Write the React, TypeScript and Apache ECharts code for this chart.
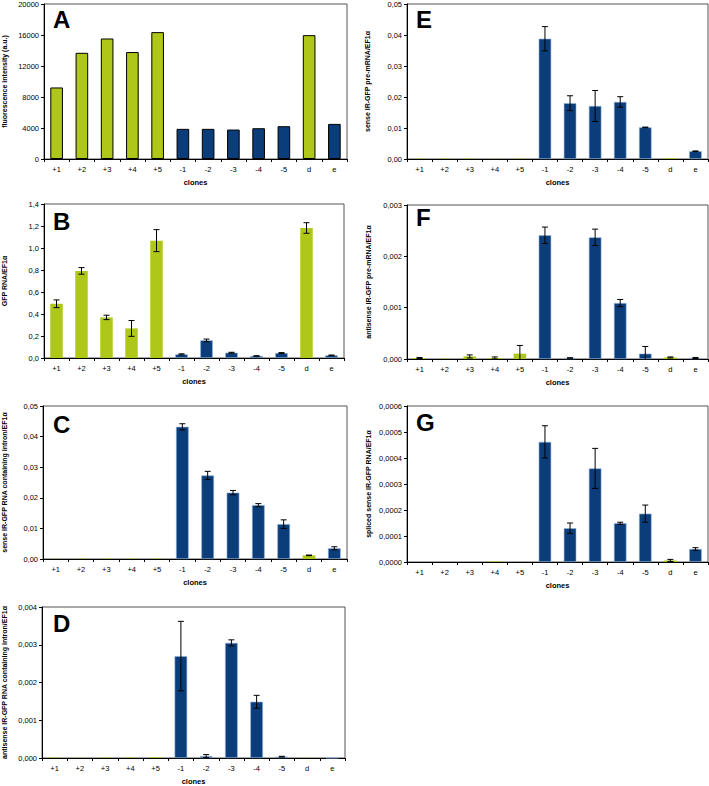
import React, { useEffect, useRef } from "react";
import * as echarts from "echarts";

const categories = ["+1", "+2", "+3", "+4", "+5", "-1", "-2", "-3", "-4", "-5", "d", "e"];

const valuesA = [9230, 13700, 15550, 13800, 16370, 3890, 3890, 3800, 3970, 4230, 15980, 4530];

const valuesB = [0.493, 0.792, 0.369, 0.269, 1.067, 0.033, 0.16, 0.048, 0.018, 0.045, 1.182, 0.024];
const errorsB = [0.035, 0.03, 0.02, 0.072, 0.1, 0.005, 0.012, 0.004, 0.003, 0.004, 0.048, 0.003];

const valuesC = [0.0001, 0.0001, 0.0001, 0.0001, 0.0001, 0.0432, 0.0273, 0.0217, 0.0176, 0.0114, 0.0012, 0.0035];
const errorsC = [0, 0, 0, 0, 0, 0.001, 0.00135, 0.0007, 0.0005, 0.0014, 0.0001, 0.0005];

const valuesD = [0.00001, 0.000005, 0.00001, 0.00001, 0.00002, 0.0027, 0.00005, 0.00305, 0.00149, 0.000035, 0.000005, 0.000005];
const errorsD = [0, 0, 0, 0, 0, 0.00092, 0.00004, 0.00008, 0.00017, 0.00001, 0, 0];

const valuesE = [0.0001, 0.0001, 0.0001, 0.00005, 0.0001, 0.0388, 0.018, 0.0171, 0.0184, 0.0102, 0.0002, 0.0025];
const errorsE = [0, 0, 0, 0, 0, 0.0039, 0.0024, 0.005, 0.0017, 0.0001, 0, 0.0001];

const valuesF = [0.00002, 0.000005, 0.00005, 0.00002, 0.000104, 0.00241, 0.00002, 0.00237, 0.00109, 0.000104, 0.00003, 0.00002];
const errorsF = [0.00001, 0, 0.00003, 0.00002, 0.00016, 0.00016, 0.000005, 0.00016, 0.00007, 0.00014, 0.00001, 0.00001];

const valuesG = [0, 0, 0, 0.000002, 0, 0.000462, 0.00013, 0.00036, 0.000149, 0.000186, 0.000006, 0.00005];
const errorsG = [0, 0, 0, 0, 0, 0.000062, 0.00002, 0.000077, 0.000004, 0.000033, 0.000004, 0.000005];

const GREEN = "#afc719";
const BLUE = "#0b3d7a";
const greenIdx = new Set([0, 1, 2, 3, 4, 10]);

type Panel = {
  letter: string;
  yName: string;
  values: number[];
  errors: number[] | null;
  max: number;
  interval: number;
  decimals: number;
  grid: { left: number; top: number; width: number; height: number };
  nameGap: number;
  letterPos: [number, number];
  outlined: boolean;
};

const panels: Panel[] = [
  { letter: "A", yName: "fluorescence intensity (a.u.)", values: valuesA, errors: null, max: 20000, interval: 4000, decimals: 0,
    grid: { left: 42, top: 3, width: 305, height: 156 }, nameGap: 36, letterPos: [53, 7], outlined: true },
  { letter: "B", yName: "GFP RNA/EF1α", values: valuesB, errors: errorsB, max: 1.4, interval: 0.2, decimals: 1,
    grid: { left: 42, top: 204, width: 302, height: 154 }, nameGap: 36, letterPos: [53, 209], outlined: false },
  { letter: "C", yName: "sense IR-GFP RNA containing intron/EF1α", values: valuesC, errors: errorsC, max: 0.05, interval: 0.01, decimals: 2,
    grid: { left: 42, top: 406, width: 305, height: 153 }, nameGap: 35, letterPos: [53, 412], outlined: false },
  { letter: "D", yName: "antisense IR-GFP RNA containing intron/EF1α", values: valuesD, errors: errorsD, max: 0.004, interval: 0.001, decimals: 3,
    grid: { left: 42, top: 607, width: 303, height: 155 }, nameGap: 34, letterPos: [53, 611], outlined: false },
  { letter: "E", yName: "sense IR-GFP pre-mRNA/EF1α", values: valuesE, errors: errorsE, max: 0.05, interval: 0.01, decimals: 2,
    grid: { left: 407, top: 3, width: 301, height: 156 }, nameGap: 36, letterPos: [416, 7], outlined: false },
  { letter: "F", yName: "antisense IR-GFP pre-mRNA/EF1α", values: valuesF, errors: errorsF, max: 0.003, interval: 0.001, decimals: 3,
    grid: { left: 407, top: 205, width: 301, height: 154 }, nameGap: 35, letterPos: [416, 205], outlined: false },
  { letter: "G", yName: "spliced sense IR-GFP RNA/EF1α", values: valuesG, errors: errorsG, max: 0.0006, interval: 0.0001, decimals: 4,
    grid: { left: 407, top: 406, width: 301, height: 156 }, nameGap: 35, letterPos: [416, 410], outlined: false },
];

const FONT = "'Liberation Sans', Arial, sans-serif";

export default function App() {
  const ref = useRef<HTMLDivElement>(null);
  useEffect(() => {
    if (!ref.current) return;
    const chart = echarts.init(ref.current, undefined, { renderer: "svg" });
    const grids: any[] = [];
    const xAxes: any[] = [];
    const yAxes: any[] = [];
    const series: any[] = [];
    const graphics: any[] = [];

    panels.forEach((p, i) => {
      grids.push({ ...p.grid, show: true, borderColor: "#555", borderWidth: 1, backgroundColor: "transparent" });
      xAxes.push({
        type: "category", gridIndex: i, data: categories,
        name: "clones", nameLocation: "middle", nameGap: 19,
        nameTextStyle: { fontFamily: FONT, fontSize: 7.5, fontWeight: "bold", color: "#000" },
        axisLine: { lineStyle: { color: "#000", width: 1 } },
        axisTick: { show: true, length: 3, lineStyle: { color: "#000" } },
        axisLabel: { fontFamily: FONT, fontSize: 7.5, color: "#000", margin: 6 },
      });
      yAxes.push({
        type: "value", gridIndex: i, min: 0, max: p.max, interval: p.interval,
        name: p.yName, nameLocation: "middle", nameGap: p.nameGap, nameRotate: 90,
        nameTextStyle: { fontFamily: FONT, fontSize: 7, fontWeight: "bold", color: "#000" },
        axisLine: { show: true, lineStyle: { color: "#000", width: 1 } },
        axisTick: { show: true, length: 3, lineStyle: { color: "#000" } },
        splitLine: { show: false },
        axisLabel: {
          fontFamily: FONT, fontSize: 7.5, color: "#000", margin: 5,
          formatter: (v: number) => v.toFixed(p.decimals).replace(".", ","),
        },
      });
      series.push({
        type: "bar", xAxisIndex: i, yAxisIndex: i, barWidth: "50%",
        data: p.values.map((v, j) => ({
          value: v,
          itemStyle: p.outlined
            ? { color: greenIdx.has(j) ? GREEN : BLUE, borderColor: "#000", borderWidth: 1 }
            : greenIdx.has(j)
              ? { color: GREEN }
              : { color: BLUE, borderColor: "#8fb3dc", borderWidth: 0.6 },
        })),
      });
      if (p.errors) {
        const errs = p.errors;
        const errData = p.values
          .map((v, j) => [j, v - errs[j], v + errs[j], errs[j]])
          .filter((d) => d[3] > 0);
        series.push({
          type: "custom", xAxisIndex: i, yAxisIndex: i, clip: true, z: 5,
          encode: { x: 0, y: [1, 2] },
          data: errData,
          renderItem: (params: any, api: any) => {
            const x = api.value(0);
            const hi = api.coord([x, api.value(2)]);
            const lo = api.coord([x, Math.max(0, api.value(1))]);
            const loReal = api.value(1) >= 0;
            const hw = 3;
            const children: any[] = [
              { type: "line", shape: { x1: hi[0], y1: hi[1], x2: lo[0], y2: lo[1] }, style: { stroke: "#000", lineWidth: 1 } },
              { type: "line", shape: { x1: hi[0] - hw, y1: hi[1], x2: hi[0] + hw, y2: hi[1] }, style: { stroke: "#000", lineWidth: 1 } },
            ];
            if (loReal) {
              children.push({ type: "line", shape: { x1: lo[0] - hw, y1: lo[1], x2: lo[0] + hw, y2: lo[1] }, style: { stroke: "#000", lineWidth: 1 } });
            }
            return { type: "group", children };
          },
        });
      }
      graphics.push({
        type: "text", left: p.letterPos[0], top: p.letterPos[1], z: 10,
        style: { text: p.letter, font: `bold 24px ${FONT}`, fill: "#000" },
      });
    });

    chart.setOption({
      animation: false,
      backgroundColor: "#fff",
      grid: grids,
      xAxis: xAxes,
      yAxis: yAxes,
      series,
      graphic: graphics,
    });
    return () => chart.dispose();
  }, []);
  return <div ref={ref} style={{ position: "fixed", left: 0, top: 0, width: 709, height: 786 }} />;
}
